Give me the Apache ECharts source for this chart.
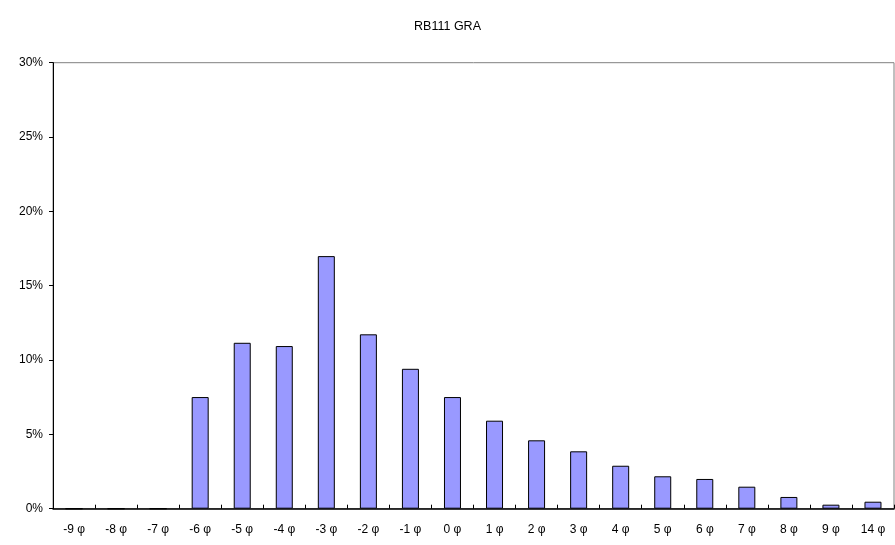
<!DOCTYPE html>
<html><head><meta charset="utf-8">
<script src="https://cdn.jsdelivr.net/npm/echarts@6/dist/echarts.min.js"></script>
<style>html,body{margin:0;padding:0;background:#fff}#c{width:895px;height:545px}</style>
</head><body><div id="c"></div>
<script>
const title = 'RB111 GRA';
const categories = ['-9 φ','-8 φ','-7 φ','-6 φ','-5 φ','-4 φ','-3 φ','-2 φ','-1 φ','0 φ','1 φ','2 φ','3 φ','4 φ','5 φ','6 φ','7 φ','8 φ','9 φ','14 φ'];
const values = [0,0,0,7.51,11.16,10.94,16.99,11.73,9.41,7.51,5.92,4.60,3.86,2.89,2.18,2.0,1.48,0.79,0.27,0.47];
const yTicks = {min:0, max:30, interval:5};

const chart = echarts.init(document.getElementById('c'), null, {renderer:'canvas'});
const font = 'Liberation Sans, Arial, sans-serif';
chart.setOption({
  animation:false,
  title:{text:title, left:'center', top:15, textStyle:{fontFamily:font, fontSize:12.5, fontWeight:'normal', color:'#000'}},
  grid:{left:53, right:1, top:62.7, bottom:545-508.7, show:true, borderColor:'#808080', borderWidth:1, backgroundColor:'transparent'},
  xAxis:{type:'category', data:categories,
    axisLine:{lineStyle:{color:'#000', width:1.5}},
    axisTick:{show:true, inside:true, length:4, alignWithLabel:false, lineStyle:{color:'#000'}},
    axisLabel:{fontFamily:font, fontSize:12, color:'#000', margin:15, interval:0},
    splitLine:{show:false}},
  yAxis:{type:'value', min:yTicks.min, max:yTicks.max, interval:yTicks.interval,
    axisLine:{show:true, lineStyle:{color:'#000', width:1}},
    axisTick:{show:true, length:4, lineStyle:{color:'#000'}},
    axisLabel:{fontFamily:font, fontSize:12, color:'#000', margin:10, formatter:'{value}%'},
    splitLine:{show:false}},
  series:[{type:'bar', data:values, barWidth:17,
    itemStyle:{color:'#9999ff', borderColor:'#000', borderWidth:1}}]
});
</script></body></html>
